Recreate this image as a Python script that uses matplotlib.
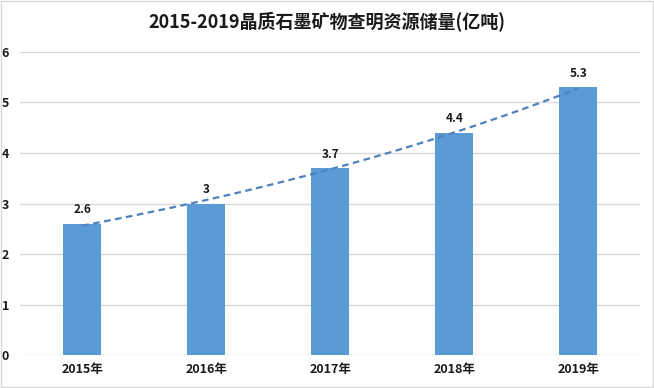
import matplotlib.pyplot as plt
import numpy as np

plt.rcParams['font.family'] = ['Noto Sans CJK SC', 'DejaVu Sans']

years = ["2015年", "2016年", "2017年", "2018年", "2019年"]
reserves = [2.6, 3, 3.7, 4.4, 5.3]
value_labels = ["2.6", "3", "3.7", "4.4", "5.3"]
title = "2015-2019晶质石墨矿物查明资源储量(亿吨)"

x = np.arange(len(years))

# exponential trendline as in the spreadsheet
b, a = np.polyfit(x, np.log(reserves), 1)
xt = np.linspace(0, len(years) - 1, 100)
yt = np.exp(a + b * xt)

fig = plt.figure(figsize=(6.54, 3.88), dpi=100)
fig.patches.append(plt.Rectangle((0.002, 0.002), 0.996, 0.996, transform=fig.transFigure,
                                 fill=False, edgecolor="#d9d9d9", linewidth=1))
ax = fig.add_axes([0.031, 0.085, 0.948, 0.781])

ax.bar(x, reserves, width=0.31, color="#5b9bd5", zorder=2)
ax.plot(xt, yt, linestyle=(0, (3, 2)), color="#4f81bd", linewidth=1.6, zorder=3)

for xi, v, lab in zip(x, reserves, value_labels):
    ax.text(xi, v + 0.15, lab, ha="center", va="bottom", fontsize=8.5,
            fontweight="bold", color="#1a1a1a")

ax.set_xlim(-0.5, len(years) - 0.5)
ax.set_ylim(0, 6)
ax.set_yticks(range(7))
ax.set_xticks(x)
ax.set_xticklabels(years)
ax.grid(axis="y", color="#d9d9d9", linewidth=1, zorder=0)
for s in ["top", "right", "left", "bottom"]:
    ax.spines[s].set_visible(False)
ax.tick_params(length=0, labelsize=9, colors="#1a1a1a", pad=6)
ax.tick_params(axis="y", pad=8)
for t in ax.get_xticklabels() + ax.get_yticklabels():
    t.set_fontweight("bold")

fig.text(0.5, 0.943, title, ha="center", va="center", fontsize=13,
         fontweight="bold", color="#1a1a1a")

fig.savefig("out.png", dpi=100)
